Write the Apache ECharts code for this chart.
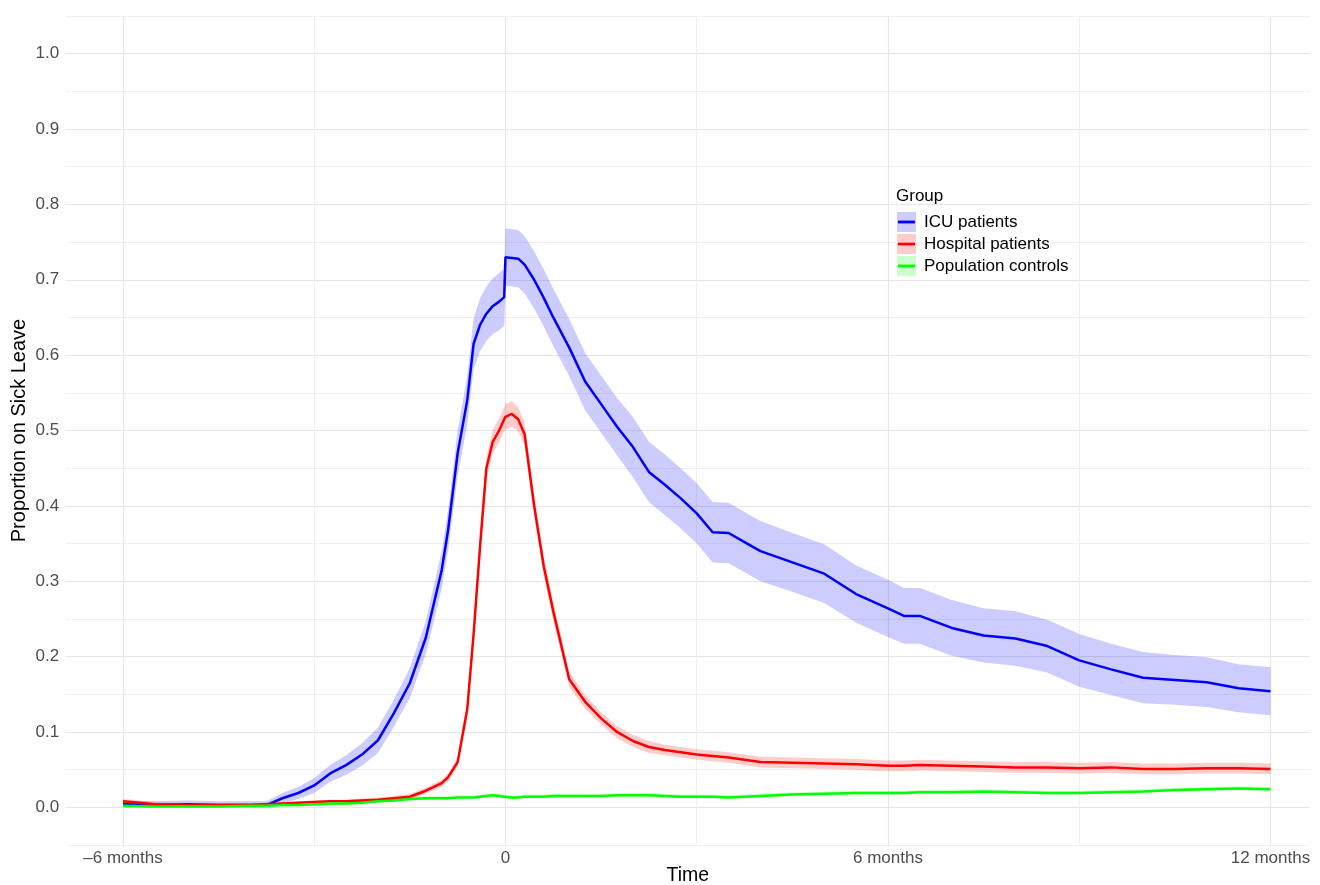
<!DOCTYPE html>
<html>
<head>
<meta charset="utf-8">
<title>Sick leave</title>
<script src="https://cdn.jsdelivr.net/npm/echarts@6/dist/echarts.min.js"></script>
<style>
  html, body { margin: 0; padding: 0; background: #fff; }
  #chart { width: 1320px; height: 885px; }
</style>
</head>
<body>
<div id="chart"></div>
<script>
// time in months relative to admission
var months = [-6, -5.5, -5, -4.5, -4, -3.75, -3.5, -3.25, -3, -2.75, -2.5, -2.25, -2,
  -1.75, -1.5, -1.25, -1, -0.9, -0.75, -0.6, -0.5, -0.4, -0.3, -0.2, -0.1, -0.02, 0,
  0.1, 0.2, 0.3, 0.45, 0.6, 0.75, 1, 1.25, 1.5, 1.75, 2, 2.25, 2.5, 2.75, 3, 3.25,
  3.5, 3.75, 4, 4.5, 5, 5.5, 6, 6.25, 6.5, 7, 7.5, 8, 8.5, 9, 9.5, 10, 10.5, 11, 11.5, 12];

var icuMean = [0.004, 0.003, 0.004, 0.003, 0.003, 0.003, 0.012, 0.019, 0.029, 0.045, 0.056, 0.070, 0.089,
  0.125, 0.165, 0.225, 0.315, 0.368, 0.470, 0.540, 0.615, 0.640, 0.655, 0.665, 0.671, 0.677, 0.730,
  0.729, 0.728, 0.720, 0.700, 0.676, 0.650, 0.610, 0.565, 0.535, 0.505, 0.478, 0.445, 0.428, 0.410, 0.390, 0.365,
  0.364, 0.352, 0.340, 0.325, 0.310, 0.283, 0.264, 0.254, 0.254, 0.238, 0.228, 0.224, 0.214, 0.195, 0.183, 0.172, 0.169, 0.166, 0.158, 0.154];
var icuLo = [0.000, 0.000, 0.000, 0.000, 0.000, 0.000, 0.005, 0.011, 0.019, 0.034, 0.043, 0.055, 0.072,
  0.107, 0.145, 0.203, 0.290, 0.341, 0.440, 0.508, 0.581, 0.605, 0.619, 0.628, 0.633, 0.639, 0.692,
  0.691, 0.690, 0.682, 0.662, 0.638, 0.612, 0.572, 0.527, 0.497, 0.467, 0.438, 0.405, 0.388, 0.370, 0.350, 0.325,
  0.324, 0.312, 0.300, 0.286, 0.271, 0.245, 0.226, 0.217, 0.217, 0.201, 0.192, 0.188, 0.179, 0.160, 0.149, 0.138, 0.136, 0.133, 0.126, 0.122];
var icuHi = [0.009, 0.008, 0.009, 0.008, 0.008, 0.008, 0.019, 0.027, 0.039, 0.056, 0.069, 0.085, 0.106,
  0.143, 0.185, 0.247, 0.340, 0.395, 0.500, 0.572, 0.649, 0.675, 0.691, 0.702, 0.709, 0.715, 0.768,
  0.767, 0.766, 0.758, 0.738, 0.714, 0.688, 0.648, 0.603, 0.573, 0.543, 0.518, 0.485, 0.468, 0.450, 0.430, 0.405,
  0.404, 0.392, 0.380, 0.364, 0.349, 0.321, 0.302, 0.291, 0.291, 0.275, 0.264, 0.260, 0.249, 0.230, 0.217, 0.206, 0.202, 0.199, 0.190, 0.186];

var hospMean = [0.008, 0.004, 0.003, 0.003, 0.003, 0.004, 0.005, 0.006, 0.007, 0.008, 0.008, 0.009, 0.010,
  0.012, 0.014, 0.022, 0.032, 0.040, 0.060, 0.130, 0.230, 0.345, 0.450, 0.485, 0.500, 0.515, 0.518,
  0.522, 0.515, 0.495, 0.400, 0.320, 0.260, 0.170, 0.140, 0.118, 0.100, 0.088, 0.080, 0.076, 0.073, 0.070, 0.068,
  0.066, 0.063, 0.060, 0.059, 0.058, 0.057, 0.055, 0.055, 0.056, 0.055, 0.054, 0.053, 0.053, 0.052, 0.053, 0.051, 0.051, 0.052, 0.052, 0.051];
var hospLo = [0.005, 0.001, 0.001, 0.001, 0.001, 0.002, 0.003, 0.004, 0.005, 0.006, 0.006, 0.006, 0.007,
  0.009, 0.010, 0.018, 0.027, 0.035, 0.054, 0.120, 0.218, 0.331, 0.435, 0.469, 0.484, 0.499, 0.501,
  0.505, 0.499, 0.480, 0.386, 0.307, 0.248, 0.160, 0.131, 0.110, 0.092, 0.080, 0.072, 0.069, 0.066, 0.063, 0.061,
  0.059, 0.056, 0.053, 0.052, 0.051, 0.050, 0.048, 0.048, 0.049, 0.048, 0.047, 0.046, 0.046, 0.045, 0.046, 0.044, 0.044, 0.045, 0.045, 0.044];
var hospHi = [0.011, 0.007, 0.005, 0.005, 0.005, 0.006, 0.007, 0.008, 0.009, 0.010, 0.010, 0.012, 0.013,
  0.015, 0.018, 0.026, 0.037, 0.045, 0.066, 0.140, 0.242, 0.359, 0.465, 0.501, 0.516, 0.531, 0.535,
  0.539, 0.531, 0.510, 0.414, 0.333, 0.272, 0.180, 0.149, 0.126, 0.108, 0.096, 0.088, 0.083, 0.080, 0.077, 0.075,
  0.073, 0.070, 0.067, 0.066, 0.065, 0.064, 0.062, 0.062, 0.063, 0.062, 0.061, 0.060, 0.060, 0.059, 0.060, 0.058, 0.058, 0.059, 0.059, 0.058];

var popMean = [0.002, 0.001, 0.001, 0.001, 0.002, 0.002, 0.003, 0.003, 0.004, 0.005, 0.005, 0.006, 0.008,
  0.009, 0.011, 0.012, 0.012, 0.012, 0.013, 0.013, 0.013, 0.014, 0.015, 0.016, 0.015, 0.014, 0.014,
  0.013, 0.013, 0.014, 0.014, 0.014, 0.015, 0.015, 0.015, 0.015, 0.016, 0.016, 0.016, 0.015, 0.014, 0.014, 0.014,
  0.013, 0.014, 0.015, 0.017, 0.018, 0.019, 0.019, 0.019, 0.020, 0.020, 0.021, 0.020, 0.019, 0.019, 0.020, 0.021, 0.023, 0.024, 0.025, 0.024];
var popLo = [0.000, 0.000, 0.000, 0.000, 0.000, 0.000, 0.001, 0.001, 0.002, 0.003, 0.003, 0.004, 0.006,
  0.007, 0.009, 0.010, 0.010, 0.010, 0.011, 0.011, 0.011, 0.012, 0.013, 0.014, 0.013, 0.012, 0.012,
  0.011, 0.011, 0.012, 0.012, 0.012, 0.013, 0.013, 0.013, 0.013, 0.014, 0.014, 0.014, 0.013, 0.012, 0.012, 0.012,
  0.011, 0.012, 0.013, 0.015, 0.016, 0.017, 0.017, 0.017, 0.018, 0.018, 0.019, 0.018, 0.017, 0.017, 0.018, 0.019, 0.021, 0.022, 0.023, 0.022];
var popHi = [0.005, 0.004, 0.004, 0.004, 0.005, 0.005, 0.006, 0.006, 0.007, 0.008, 0.008, 0.009, 0.011,
  0.012, 0.014, 0.015, 0.015, 0.015, 0.016, 0.016, 0.016, 0.017, 0.018, 0.019, 0.018, 0.017, 0.017,
  0.016, 0.016, 0.017, 0.017, 0.017, 0.018, 0.018, 0.018, 0.018, 0.019, 0.019, 0.019, 0.018, 0.017, 0.017, 0.017,
  0.016, 0.017, 0.018, 0.020, 0.021, 0.022, 0.022, 0.022, 0.023, 0.023, 0.024, 0.023, 0.022, 0.022, 0.023, 0.024, 0.026, 0.027, 0.028, 0.027];

var groups = ['ICU patients', 'Hospital patients', 'Population controls'];
var lineColors = ['#0000FF', '#FF0000', '#00FF00'];
var bandColors = ['rgba(0,0,255,0.2)', 'rgba(255,0,0,0.2)', 'rgba(0,255,0,0.2)'];
var keyColors = ['#CCCCFF', '#FFCCCC', '#CCFFCC'];

var xLabelValues = [-6, 0, 6, 12];
var xMajor = [-6, 0, 6, 12];
var xMinor = [-3, 3, 9];

var FONT = '"Liberation Sans", Arial, Helvetica, sans-serif';

function pairs(ys) {
  return months.map(function (m, i) { return [m, ys[i]]; });
}

var means = [icuMean, hospMean, popMean];
var los = [icuLo, hospLo, popLo];
var his = [icuHi, hospHi, popHi];

var series = [];

// vertical grid lines
series.push({
  type: 'line',
  name: 'grid',
  data: [],
  silent: true,
  z: 0,
  markLine: {
    silent: true,
    symbol: 'none',
    label: {show: false},
    animation: false,
    z: 0,
    data: xMajor.map(function (v) {
      return {xAxis: v, lineStyle: {color: '#e6e6e6', width: 1.2, type: 'solid'}};
    }).concat(xMinor.map(function (v) {
      return {xAxis: v, lineStyle: {color: '#f0f0f0', width: 1, type: 'solid'}};
    }))
  }
});

// confidence bands: one polygon per group, drawn through the axis scales
groups.forEach(function (g, k) {
  var lo = los[k], hi = his[k];
  series.push({
    type: 'custom',
    name: g + ' band',
    silent: true,
    z: 1,
    data: months.map(function (m, i) { return [m, lo[i], hi[i]]; }),
    encode: {x: 0, y: [1, 2]},
    renderItem: function (params, api) {
      if (params.dataIndex !== 0) return;
      var top = [], bottom = [];
      for (var i = 0; i < months.length; i++) {
        top.push(api.coord([months[i], hi[i]]));
        bottom.push(api.coord([months[i], lo[i]]));
      }
      return {
        type: 'polygon',
        shape: {points: top.concat(bottom.reverse())},
        style: {fill: bandColors[k]}
      };
    }
  });
});

// means
groups.forEach(function (g, k) {
  series.push({
    type: 'line',
    name: g,
    data: pairs(means[k]),
    symbol: 'none',
    color: lineColors[k],
    lineStyle: {color: lineColors[k], width: 2.5},
    z: 3
  });
});

var chart = echarts.init(document.getElementById('chart'));
chart.setOption({
  animation: false,
  backgroundColor: '#fff',
  grid: {left: 65.6, right: 10, top: 16, bottom: 40, outerBoundsMode: 'none', containLabel: false},
  xAxis: {
    type: 'value',
    min: -6.9,
    max: 12.62,
    name: 'Time',
    nameLocation: 'middle',
    nameGap: 21,
    nameMoveOverlap: false,
    nameTextStyle: {color: '#000', fontSize: 19.5, fontFamily: FONT},
    axisLine: {show: false},
    axisTick: {show: false},
    splitLine: {show: false},
    axisLabel: {
      customValues: xLabelValues,
      margin: 5,
      color: '#4d4d4d',
      fontSize: 17,
      fontFamily: FONT,
      formatter: function (v) {
        if (v === 0) return '0';
        return (v < 0 ? '\u2013' + Math.abs(v) : v) + ' months';
      }
    }
  },
  yAxis: {
    type: 'value',
    min: -0.05,
    max: 1.05,
    interval: 0.05,
    name: 'Proportion on Sick Leave',
    nameLocation: 'middle',
    nameGap: 36,
    nameMoveOverlap: false,
    nameTextStyle: {color: '#000', fontSize: 20, fontFamily: FONT},
    axisLine: {show: false},
    axisTick: {show: false},
    splitLine: {lineStyle: {color: ['#f0f0f0', '#e6e6e6'], width: 1.1}},
    axisLabel: {
      margin: 6.5,
      color: '#4d4d4d',
      fontSize: 17,
      fontFamily: FONT,
      formatter: function (v) {
        var k = Math.round(v * 100);
        return k % 10 === 0 ? (k / 100).toFixed(1) : '';
      }
    }
  },
  legend: {
    data: groups,
    orient: 'vertical',
    left: 893,
    top: 208.5,
    itemWidth: 17,
    itemHeight: 20,
    itemGap: 5,
    selectedMode: false,
    icon: 'path://M0,0 L18,0 L18,3 L0,3 Z',
    textStyle: {color: '#000', fontSize: 17, fontFamily: FONT, padding: [0, 0, 0, 4]}
  },
  graphic: [
    {type: 'text', left: 896, top: 188, z: 10,
      style: {text: 'Group', fill: '#000', fontSize: 17, fontFamily: FONT}}
  ].concat(keyColors.map(function (c, k) {
    return {type: 'rect', left: 897, top: 212 + 22 * k, z: 0,
      shape: {width: 19, height: 20}, style: {fill: c}};
  })),
  series: series
});
</script>
</body>
</html>
